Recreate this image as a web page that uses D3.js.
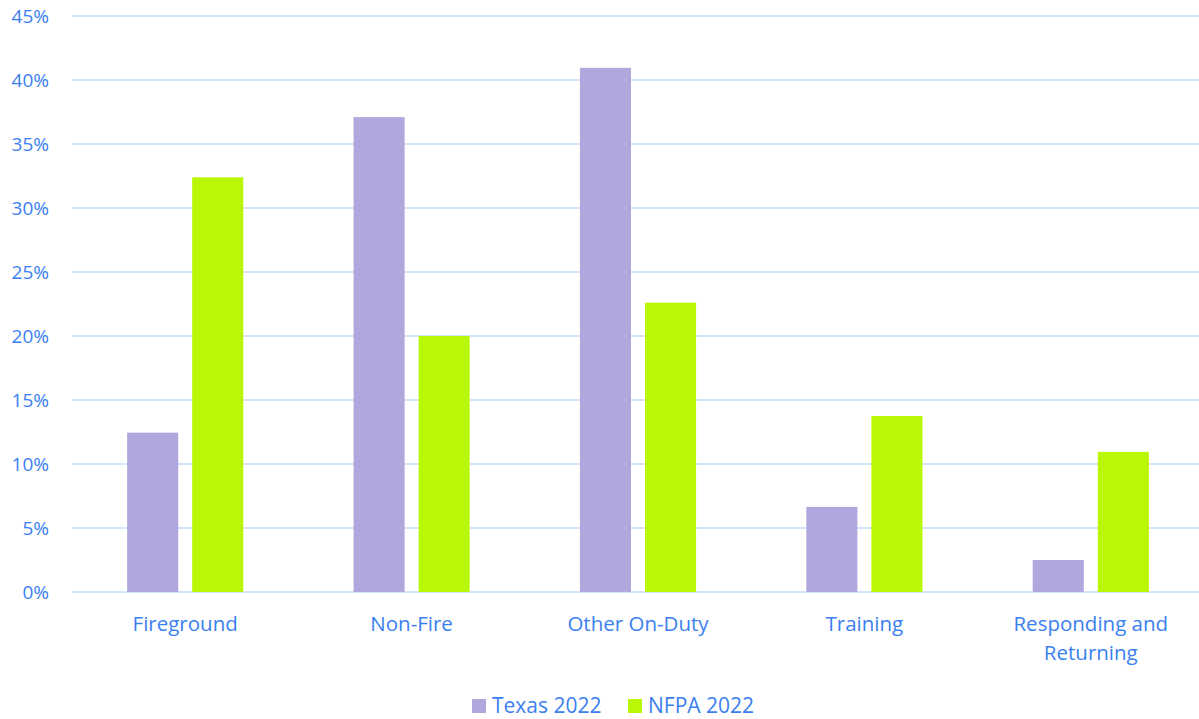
<!DOCTYPE html>
<html>
<head>
<meta charset="utf-8">
<script src="https://cdn.jsdelivr.net/npm/d3@7"></script>
<style>
  body { margin: 0; background: #fff; }
  text { font-family: "Open Sans", sans-serif; fill: #3a80f0; }
</style>
</head>
<body>
<svg id="chart"></svg>
<script>
// data
var categories = [["Fireground"], ["Non-Fire"], ["Other On-Duty"], ["Training"], ["Responding and", "Returning"]];
var seriesNames = ["Texas 2022", "NFPA 2022"];
var texas = [12.45, 37.1, 40.95, 6.65, 2.5];
var nfpa = [32.4, 20.0, 22.6, 13.75, 10.95];
var yTicks = [0, 5, 10, 15, 20, 25, 30, 35, 40, 45];
var colors = ["#b0a8dc", "#b9f707"];

var width = 1199, height = 719;
var margin = {top: 16, right: 0, bottom: 127, left: 72};

var svg = d3.select("#chart")
    .attr("width", width)
    .attr("height", height);

var g = svg.append("g")
    .attr("transform", "translate(" + margin.left + "," + margin.top + ")");

var w = width - margin.left - margin.right,
    h = height - margin.top - margin.bottom;

var keys = categories.map(function(c){ return c.join(" "); });

// plot area runs a little past the right edge of the image
var x0 = d3.scaleBand()
    .domain(keys)
    .range([0, w + 5])
    .paddingInner(0.487)
    .paddingOuter(0.2435);

var x1 = d3.scaleBand()
    .domain(seriesNames)
    .range([0, x0.bandwidth()])
    .paddingInner(0.215);

var y = d3.scaleLinear()
    .domain([0, 45])
    .range([h, 0]);

// gridlines
g.selectAll("line.grid")
    .data(yTicks)
    .enter()
    .append("line")
    .attr("class", "grid")
    .attr("x1", 0)
    .attr("x2", w)
    .attr("y1", function(d){ return y(d); })
    .attr("y2", function(d){ return y(d); })
    .style("stroke", "#d3e3fa")
    .style("stroke-width", "2px");

// y tick labels
g.selectAll("text.ytick")
    .data(yTicks)
    .enter()
    .append("text")
    .attr("class", "ytick")
    .attr("x", -23)
    .attr("y", function(d){ return y(d); })
    .attr("dy", "0.35em")
    .style("text-anchor", "end")
    .style("font-size", "19px")
    .text(function(d){ return d + "%"; });

var rows = keys.map(function(k, i){
    return {key: k, values: [texas[i], nfpa[i]]};
});

var groups = g.selectAll("g.cat")
    .data(rows)
    .enter()
    .append("g")
    .attr("class", "cat")
    .attr("transform", function(d){ return "translate(" + x0(d.key) + ",0)"; });

groups.selectAll("rect")
    .data(function(d){
        return d.values.map(function(v, i){ return {s: seriesNames[i], v: v, i: i}; });
    })
    .enter()
    .append("rect")
    .attr("x", function(d){ return x1(d.s); })
    .attr("y", function(d){ return y(d.v); })
    .attr("width", x1.bandwidth())
    .attr("height", function(d){ return h - y(d.v); })
    .style("fill", function(d){ return colors[d.i]; });

// category labels
categories.forEach(function(lines, i){
    var t = g.append("text")
        .attr("x", x0(keys[i]) + x0.bandwidth() / 2)
        .attr("y", h + 39)
        .style("text-anchor", "middle")
        .style("font-size", "20.5px");
    lines.forEach(function(line, j){
        t.append("tspan")
            .attr("x", x0(keys[i]) + x0.bandwidth() / 2)
            .attr("dy", j === 0 ? 0 : 29)
            .text(line);
    });
});

// legend
var legendX = [472, 628];
var legend = svg.append("g").attr("class", "legend");
seriesNames.forEach(function(name, i){
    legend.append("rect")
        .attr("x", legendX[i])
        .attr("y", 699)
        .attr("width", 14)
        .attr("height", 14)
        .style("fill", colors[i]);
    legend.append("text")
        .attr("x", legendX[i] + 20)
        .attr("y", 713)
        .style("font-size", "21px")
        .text(name);
});
</script>
</body>
</html>
